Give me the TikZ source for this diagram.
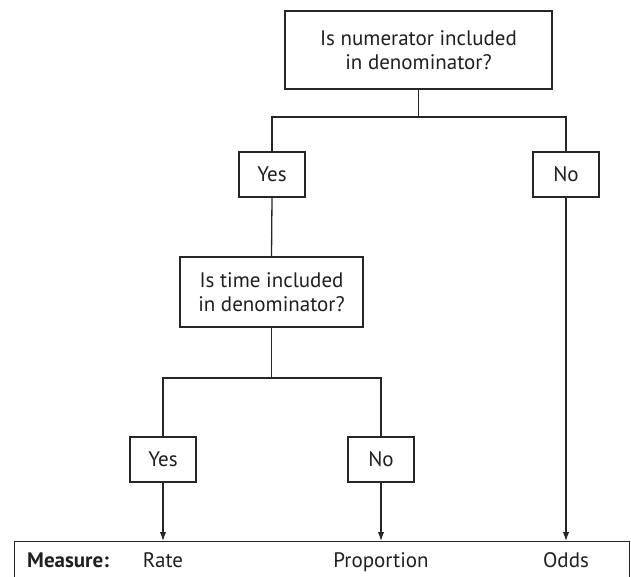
\documentclass[tikz,border=0pt]{standalone}
\usepackage{fontspec}
\setmainfont{PT Sans}
\usetikzlibrary{arrows.meta}
\begin{document}
\begin{tikzpicture}[x=1pt,y=-1pt,
  every node/.style={font=\fontsize{21}{24.5}\selectfont, text=black!88, inner sep=0pt},
  qbox/.style={draw=black!85, line width=1.3pt, align=center},
  abox/.style={draw=black!85, line width=1.3pt, minimum width=66pt, minimum height=45pt},
  link/.style={line width=1.3pt, draw=black!85},
  arr/.style={link, -{Latex[length=9pt,width=6.5pt]}}]
\useasboundingbox (0,0) rectangle (631,576);

% question boxes
\node[qbox, minimum width=267pt, minimum height=78pt] (q1) at (418.5,50) {Is numerator included\\in denominator?};
\node[qbox, minimum width=183pt, minimum height=70pt] (q2) at (271.5,292) {Is time included\\in denominator?};

% answer boxes
\node[abox] (yes1) at (272,174.5) {Yes};
\node[abox] (no1) at (566,174.5) {No};
\node[abox] (yes2) at (163,459.5) {Yes};
\node[abox] (no2) at (381,459.5) {No};

% measure strip along the bottom
\node[draw=black!85, line width=1.3pt, minimum width=615pt, minimum height=50pt, anchor=north west] (meas) at (14,541) {};
\node[anchor=base west, font=\fontsize{21}{24.5}\selectfont\bfseries] (mlabel) at (27,567) {Measure:};
\node[anchor=base] (rate) at (163,567) {Rate};
\node[anchor=base] (prop) at (381,567) {Proportion};
\node[anchor=base] (odds) at (566,567) {Odds};

% branch junctions
\coordinate (j1) at (418.5,117);
\coordinate (j2) at (271.5,378);

% connectors
\draw[link] (q1.south) -- (j1);
\draw[link] (yes1.north) -- (yes1.north |- j1) -- (no1.north |- j1) -- (no1.north);
\draw[link] (yes1.south) -- (q2.north);
\draw[link] (q2.south) -- (j2);
\draw[link] (yes2.north) -- (yes2.north |- j2) -- (no2.north |- j2) -- (no2.north);
\draw[arr] (yes2.south) -- (yes2.south |- meas.north);
\draw[arr] (no2.south) -- (no2.south |- meas.north);
\draw[arr] (no1.south) -- (no1.south |- meas.north);
\end{tikzpicture}
\end{document}
